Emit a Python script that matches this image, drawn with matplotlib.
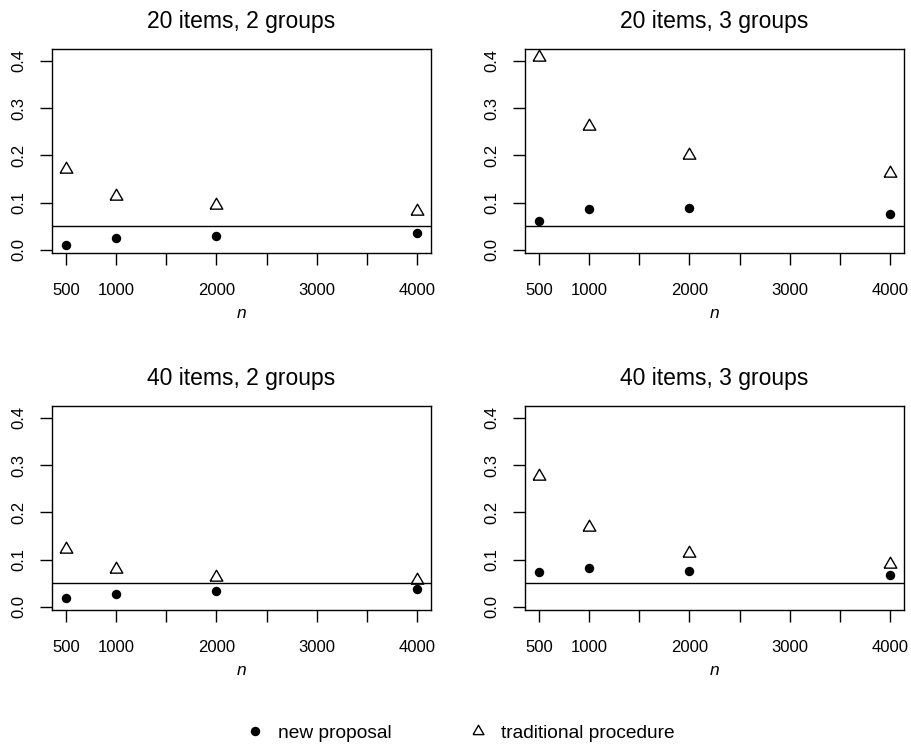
import matplotlib
matplotlib.use('Agg')
import matplotlib.pyplot as plt
import numpy as np

plt.rcParams['font.family'] = ['Liberation Sans', 'DejaVu Sans']

# ---- data ----
n_values = [500, 1000, 2000, 4000]
titles = ["20 items, 2 groups", "20 items, 3 groups",
          "40 items, 2 groups", "40 items, 3 groups"]
new_proposal = [
    [0.011, 0.025, 0.030, 0.035],
    [0.061, 0.087, 0.088, 0.0755],
    [0.019, 0.027, 0.034, 0.037],
    [0.073, 0.081, 0.075, 0.067],
]
traditional = [
    [0.171, 0.114, 0.094, 0.083],
    [0.408, 0.262, 0.200, 0.162],
    [0.123, 0.080, 0.0635, 0.056],
    [0.276, 0.169, 0.114, 0.090],
]
nominal_level = 0.05
x_ticks = [500, 1000, 1500, 2000, 2500, 3000, 3500, 4000]
x_tick_labels = ["500", "1000", "", "2000", "", "3000", "", "4000"]
y_ticks = [0.0, 0.1, 0.2, 0.3, 0.4]
y_tick_labels = ["0.0", "0.1", "0.2", "0.3", "0.4"]
legend_labels = ["new proposal", "traditional procedure"]

# ---- layout ----
W, H = 912, 748
fig = plt.figure(figsize=(W / 100, H / 100), dpi=100)

lefts = [52, 525]
tops = [49, 406]
bw, bh = 379, 204

s3 = np.sqrt(3)
tri = [(-1, -1 / s3), (1, -1 / s3), (0, 2 / s3), (-1, -1 / s3)]

lw = 1.0
tick_fs = 12
for i in range(4):
    r, c = divmod(i, 2)
    l, t = lefts[c], tops[r]
    ax = fig.add_axes([l / W, 1 - (t + bh) / H, bw / W, bh / H])
    ax.plot(n_values, new_proposal[i], linestyle='none', marker='o',
            markersize=6.8, color='black', markeredgewidth=0)
    ax.plot(n_values, traditional[i], linestyle='none', marker=tri,
            markersize=10.5, markerfacecolor='none', markeredgecolor='black',
            markeredgewidth=1.0)
    ax.axhline(nominal_level, color='black', lw=lw)
    ax.set_xlim(360, 4140)
    ax.set_ylim(-0.007, 0.4254)
    ax.set_xticks(x_ticks)
    ax.set_xticklabels(x_tick_labels)
    ax.set_yticks(y_ticks)
    ax.set_yticklabels(y_tick_labels, rotation=90, va='center')
    ax.tick_params(axis='x', length=8.6, width=lw, pad=13, labelsize=tick_fs)
    ax.tick_params(axis='y', length=8.6, width=lw, pad=9.5, labelsize=tick_fs)
    for sp in ax.spines.values():
        sp.set_linewidth(lw)
    ax.text(0.5, 1 + 21 / bh, titles[i], transform=ax.transAxes,
            ha='center', va='baseline', fontsize=16.5)
    ax.text(0.5, -65 / bh, "n", transform=ax.transAxes, ha='center',
            va='baseline', fontsize=12.5, style='italic')

# legend
h1, = plt.plot([], [], linestyle='none', marker='o', markersize=6.8,
               color='black', markeredgewidth=0)
h2, = plt.plot([], [], linestyle='none', marker=tri, markersize=9,
               markerfacecolor='none', markeredgecolor='black',
               markeredgewidth=1.0)
fig.legend([h1, h2], legend_labels, ncol=2, frameon=False,
           loc='center left', bbox_to_anchor=(245 / W, 1 - 733 / H),
           borderpad=0, borderaxespad=0, handlelength=1.0,
           handletextpad=0.7, columnspacing=4.05, fontsize=13.8)

fig.savefig('out.png', dpi=100)
